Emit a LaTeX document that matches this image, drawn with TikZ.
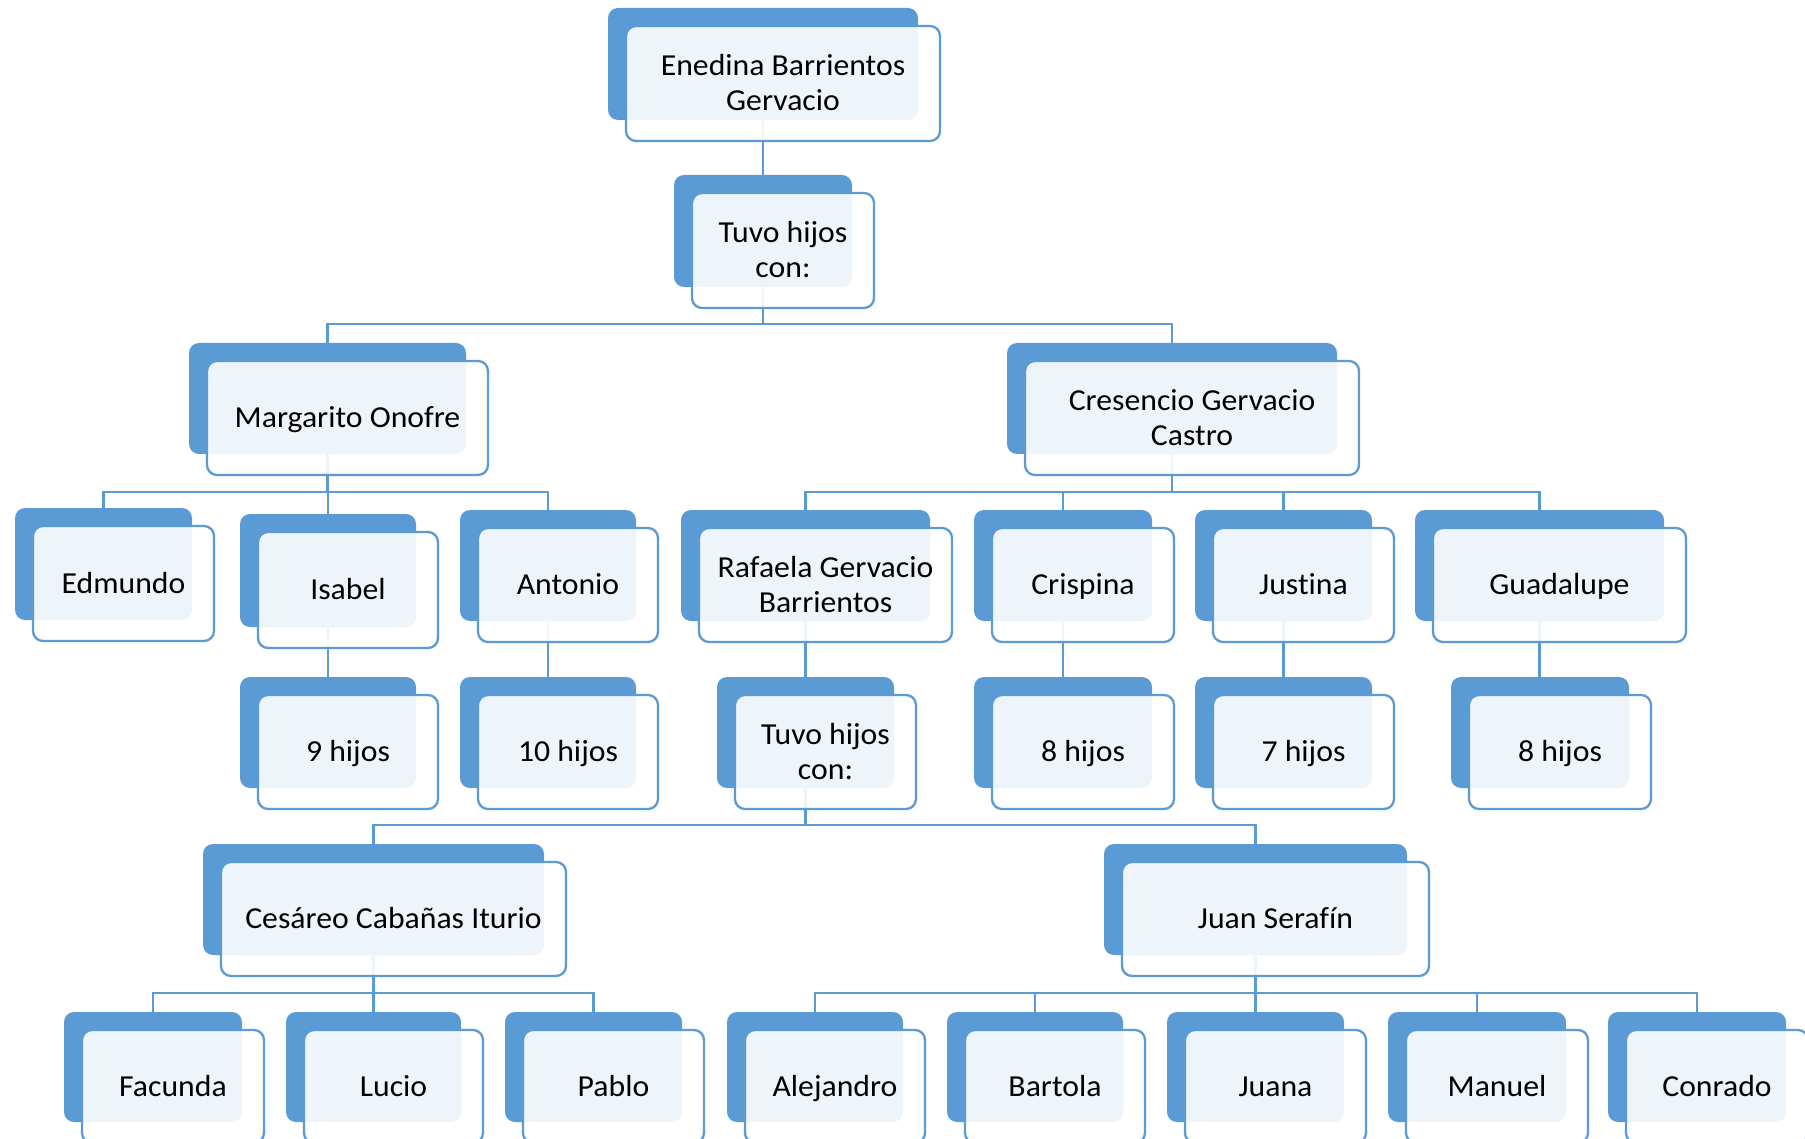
\documentclass[tikz,border=0pt]{standalone}
\usepackage{fontspec}
\setmainfont{Carlito}[FakeStretch=1.04, Ligatures=NoCommon]
\definecolor{ob}{RGB}{91,155,213}
\pgfdeclarelayer{front}
\pgfsetlayers{main,front}
\tikzset{
  backbox/.style={fill=ob, rounded corners=10pt, inner sep=0pt},
  frontbox/.style={draw=ob, line width=2.3pt, fill=white, fill opacity=0.9, text opacity=1,
    rounded corners=10pt, inner sep=0pt, align=center, text height=19.5pt, text depth=0pt,
    font=\fontsize{30.5}{35}\selectfont},
  twoline/.style={text height=54.5pt, text depth=0pt},
  conn/.style={draw=ob, line width=2.5pt},
}
\newcommand\famnode[7][]{%
  \node[backbox, minimum width={(#5)-(#3)}, minimum height={(#6)-(#4)}] (b-#2)
    at ({((#3)+(#5))/2},{((#4)+(#6))/2}) {};
  \begin{pgfonlayer}{front}
  \node[frontbox, minimum width={(#5)-(#3)+4}, minimum height={(#6)-(#4)+3}, #1] (#2)
    at ({((#3)+(#5))/2+20},{((#4)+(#6))/2+19.5}) {#7};
  \end{pgfonlayer}
}
\begin{document}
\begin{tikzpicture}[x=1pt,y=-1pt]
\useasboundingbox (0,0) rectangle (1805,1139);
\fill[white] (0,0) rectangle (1805,1139);

\famnode[twoline]{ene}{608}{8}{918}{120}{Enedina Barrientos\\Gervacio}
\famnode[twoline]{tuvo1}{674}{175}{852}{287}{Tuvo hijos\\con:}
\famnode{marg}{189}{343}{466}{454}{Margarito Onofre}
\famnode[twoline]{cres}{1007}{343}{1337}{454}{Cresencio Gervacio\\Castro}
\famnode{edm}{15}{508}{192}{620}{Edmundo}
\famnode{isa}{240}{514}{416}{627}{Isabel}
\famnode{ant}{460}{510}{636}{621}{Antonio}
\famnode[twoline]{raf}{681}{510}{930}{621}{Rafaela Gervacio\\Barrientos}
\famnode{cri}{974}{510}{1152}{621}{Crispina}
\famnode{jus}{1195}{510}{1372}{621}{Justina}
\famnode{gua}{1415}{510}{1664}{621}{Guadalupe}
\famnode{h9}{240}{677}{416}{788}{9 hijos}
\famnode{h10}{460}{677}{636}{788}{10 hijos}
\famnode[twoline]{tuvo2}{717}{677}{894}{788}{Tuvo hijos\\con:}
\famnode{h8a}{974}{677}{1152}{788}{8 hijos}
\famnode{h7}{1195}{677}{1372}{788}{7 hijos}
\famnode{h8b}{1451}{677}{1629}{788}{8 hijos}
\famnode{ces}{203}{844}{544}{955}{Cesáreo Cabañas Iturio}
\famnode{juan}{1104}{844}{1407}{955}{Juan Serafín}
\famnode{fac}{64}{1012}{242}{1122}{Facunda}
\famnode{luc}{286}{1012}{461}{1122}{Lucio}
\famnode{pab}{505}{1012}{682}{1122}{Pablo}
\famnode{ale}{727}{1012}{903}{1122}{Alejandro}
\famnode{bar}{947}{1012}{1123}{1122}{Bartola}
\famnode{jua}{1167}{1012}{1344}{1122}{Juana}
\famnode{man}{1388}{1012}{1566}{1122}{Manuel}
\famnode{con}{1608}{1012}{1786}{1122}{Conrado}

\coordinate (y0) at (0,324);
\coordinate (y1) at (0,492);
\coordinate (y2) at (0,825);
\coordinate (y3) at (0,993);

\draw[conn] (b-ene.south) -- (b-ene.south |- b-tuvo1.north);
\draw[conn] (b-tuvo1.south) -- (b-tuvo1.south |- y0);
\foreach \c in {marg,cres} \draw[conn] (b-\c.north) |- (b-tuvo1.south |- y0);

\draw[conn] (b-marg.south) -- (b-marg.south |- y1);
\foreach \c in {edm,isa,ant} \draw[conn] (b-\c.north) |- (b-marg.south |- y1);
\draw[conn] (b-cres.south) -- (b-cres.south |- y1);
\foreach \c in {raf,cri,jus,gua} \draw[conn] (b-\c.north) |- (b-cres.south |- y1);

\foreach \p/\c in {isa/h9,ant/h10,raf/tuvo2,cri/h8a,jus/h7,gua/h8b}
  \draw[conn] (b-\p.south) -- (b-\p.south |- b-\c.north);

\draw[conn] (b-tuvo2.south) -- (b-tuvo2.south |- y2);
\foreach \c in {ces,juan} \draw[conn] (b-\c.north) |- (b-tuvo2.south |- y2);

\draw[conn] (b-ces.south) -- (b-ces.south |- y3);
\foreach \c in {fac,luc,pab} \draw[conn] (b-\c.north) |- (b-ces.south |- y3);
\draw[conn] (b-juan.south) -- (b-juan.south |- y3);
\foreach \c in {ale,bar,jua,man,con} \draw[conn] (b-\c.north) |- (b-juan.south |- y3);
\end{tikzpicture}
\end{document}
